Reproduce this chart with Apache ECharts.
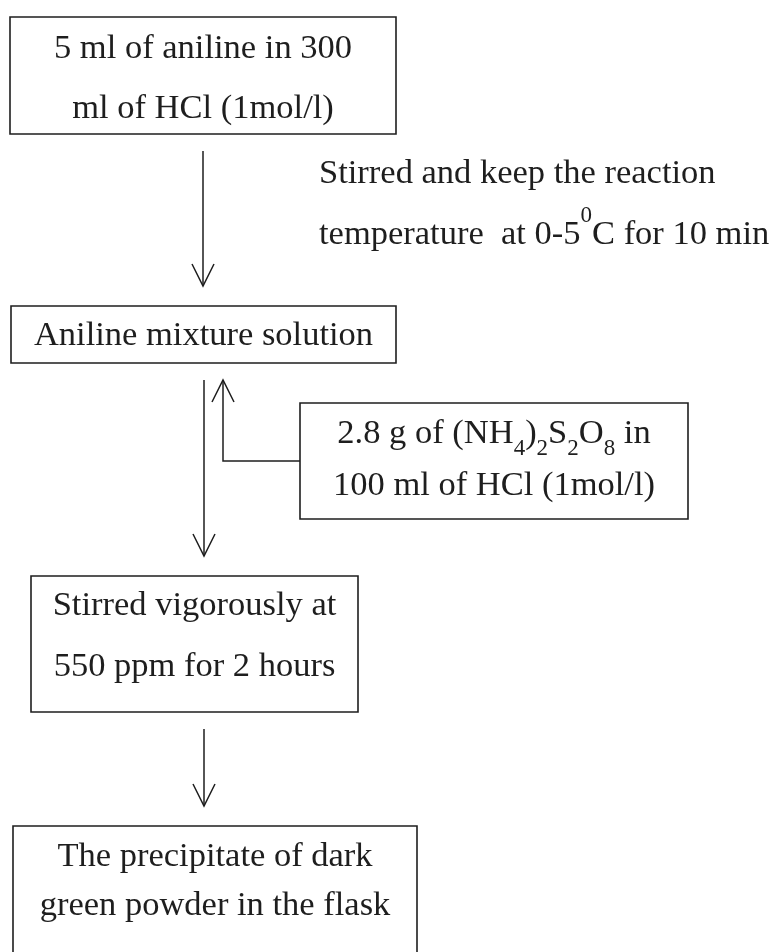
<!DOCTYPE html>
<html>
<head>
<meta charset="utf-8">
<script src="https://cdn.jsdelivr.net/npm/echarts@6/dist/echarts.min.js"></script>
<style>
html, body { margin: 0; padding: 0; background: #fff; }
#main { width: 775px; height: 952px; }
</style>
</head>
<body>
<div id="main"></div>
<script>
// flow chart content
var steps = [
	'5 ml of aniline in 300\nml of HCl (1mol/l)',
	'Aniline mixture solution',
	'Stirred vigorously at\n550 ppm for 2 hours',
	'The precipitate of dark\ngreen powder in the flask'
];
var reagents = ['2.8 g of (NH{sub|4}){sub|2}S{sub|2}O{sub|8} in\n100 ml of HCl (1mol/l)'];
var conditions = ['Stirred and keep the reaction\ntemperature  at 0-5{sup|0}C for 10 min'];
var nodes = ['s0', 's1', 's2', 's3', 'r0'];
var nodeText = steps.concat(reagents);
// [from, to]
var links = [['s0', 's1'], ['s1', 's2'], ['r0', 's1'], ['s2', 's3']];

// layout in page pixels (hidden 775 x 952 value grid)
var layout = {
	s0: [10, 17, 396, 134],
	s1: [11, 306, 396, 363],
	s2: [31, 576, 358, 712],
	s3: [13, 826, 417, 956],
	r0: [300, 403, 688, 519]
};
var textMid = { s0: 79, s1: 336, s2: 636, s3: 881, r0: 460 };
var lineGap = { s0: 60, s1: 40, s2: 61, s3: 49, r0: 52 };
var arrowX = [203, 204, 223, 204];
var condAt = [319, 204];

var FONT = '"Liberation Serif", "Times New Roman", serif';
var FS = 34.5;
var INK = '#1e1e1e';

function richFor(lh) {
	return {
		sub: { fontSize: 23, fontFamily: FONT, lineHeight: lh - 17, verticalAlign: 'bottom', color: INK },
		sup: { fontSize: 23, fontFamily: FONT, lineHeight: lh - 21, verticalAlign: 'top', color: INK }
	};
}

function renderBox(params, api) {
	var key = nodes[api.value(0)];
	var b = layout[key];
	var p0 = api.coord([b[0], b[1]]);
	var p1 = api.coord([b[2], b[3]]);
	var mid = api.coord([0, textMid[key]])[1];
	return {
		type: 'group',
		children: [{
			type: 'rect',
			shape: { x: p0[0], y: p0[1], width: p1[0] - p0[0], height: p1[1] - p0[1] },
			style: { fill: '#fff', stroke: INK, lineWidth: 1.6 }
		}, {
			type: 'text',
			x: (p0[0] + p1[0]) / 2,
			y: mid,
			style: {
				text: nodeText[api.value(0)],
				align: 'center',
				verticalAlign: 'middle',
				fontSize: FS,
				fontFamily: FONT,
				lineHeight: lineGap[key],
				fill: INK,
				rich: richFor(lineGap[key])
			}
		}]
	};
}

function head(tip, dir) { // open V arrow head
	return {
		type: 'polyline',
		shape: { points: [[tip[0] - 11, tip[1] - 22 * dir], tip, [tip[0] + 11, tip[1] - 22 * dir]] },
		style: { fill: null, stroke: INK, lineWidth: 1.5 }
	};
}

function renderLink(params, api) {
	var i = api.value(0);
	var a = layout[links[i][0]];
	var b = layout[links[i][1]];
	var x = arrowX[i];
	var pts, tip, dir;
	if (links[i][0].charAt(0) === 'r') { // reagent joins from the side
		var ym = (a[1] + a[3]) / 2;
		pts = [api.coord([a[0], ym]), api.coord([x, ym]), api.coord([x, b[3] + 17])];
		tip = pts[2];
		dir = -1;
	} else {
		pts = [api.coord([x, a[3] + 17]), api.coord([x, b[1] - 20])];
		tip = pts[1];
		dir = 1;
	}
	return {
		type: 'group',
		children: [{
			type: 'polyline',
			shape: { points: pts },
			style: { fill: null, stroke: INK, lineWidth: 1.5 }
		}, head(tip, dir)]
	};
}

function renderCond(params, api) {
	var p = api.coord(condAt);
	return {
		type: 'text',
		x: p[0],
		y: p[1],
		style: {
			text: conditions[api.value(0)],
			align: 'left',
			verticalAlign: 'middle',
			fontSize: FS,
			fontFamily: FONT,
			lineHeight: 61,
			fill: INK,
			rich: richFor(61)
		}
	};
}

var myChart = echarts.init(document.getElementById('main'));
var option = {
	animation: false,
	backgroundColor: '#fff',
	grid: { left: 0, right: 0, top: 0, bottom: 0 },
	xAxis: { type: 'value', min: 0, max: 775, show: false },
	yAxis: { type: 'value', min: 0, max: 952, inverse: true, show: false },
	series: [{
		type: 'custom',
		name: 'links',
		renderItem: renderLink,
		data: links.map(function (l, i) { return [i]; })
	}, {
		type: 'custom',
		name: 'steps',
		renderItem: renderBox,
		data: nodes.map(function (n, i) { return [i]; })
	}, {
		type: 'custom',
		name: 'conditions',
		renderItem: renderCond,
		data: conditions.map(function (c, i) { return [i]; })
	}]
};
myChart.setOption(option);
</script>
</body>
</html>
